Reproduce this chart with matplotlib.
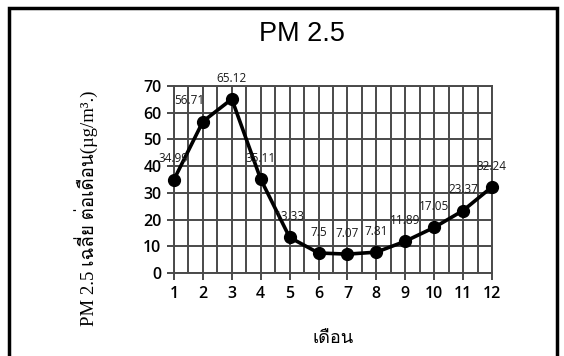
import matplotlib
matplotlib.use("Agg")
import matplotlib.pyplot as plt
from matplotlib import font_manager
from matplotlib.ft2font import FT2Font
from matplotlib.ticker import MultipleLocator
from matplotlib.patches import Rectangle

months = [1, 2, 3, 4, 5, 6, 7, 8, 9, 10, 11, 12]
pm25 = [34.99, 56.71, 65.12, 35.11, 13.33, 7.5, 7.07, 7.81, 11.89, 17.05, 23.37, 32.24]
value_labels = ["34.99", "56.71", "65.12", "35.11", "13.33", "7.5", "7.07", "7.81",
                "11.89", "17.05", "23.37", "32.24"]
title = "PM 2.5"
xlabel = "เดือน"
ylabel = "PM 2.5 เฉลี่ย ต่อเดือน(µg/m³.)"

# find an installed font with Thai glyphs
thai_font = None
for f in font_manager.fontManager.ttflist:
    try:
        cm = FT2Font(f.fname).get_charmap()
        if 0x0E40 in cm and 0x0E14 in cm:
            thai_font = f.name
            break
    except Exception:
        pass
fam_sans = ([thai_font] if thai_font else []) + ["Liberation Sans", "DejaVu Sans"]
fam_serif = ["Liberation Serif"] + ([thai_font] if thai_font else []) + ["DejaVu Sans"]

fig = plt.figure(figsize=(5.64, 3.56), dpi=100)
ax = fig.add_axes([0.3085, 0.2331, 0.5638, 0.5253])

ax.plot(months, pm25, color="black", lw=2.6, marker="o", ms=8.5, zorder=3, clip_on=False)

ax.set_xlim(1, 12)
ax.set_ylim(0, 70)
ax.set_xticks(months)
ax.xaxis.set_minor_locator(MultipleLocator(0.5))
ax.yaxis.set_major_locator(MultipleLocator(10))
ax.grid(True, which="major", color="#4a4a4a", lw=1.4)
ax.grid(True, which="minor", axis="x", color="#4a4a4a", lw=1.4)
ax.tick_params(which="minor", length=0)
ax.tick_params(which="major", length=5, width=1.4, color="#4a4a4a", pad=4,
               labelsize=11.5)
for lbl in ax.get_xticklabels() + ax.get_yticklabels():
    lbl.set_fontfamily(["Open Sans", "DejaVu Sans"])
    lbl.set_fontweight("semibold")
for s in ax.spines.values():
    s.set_color("#4a4a4a")
    s.set_linewidth(1.4)

for i, (m, v, t) in enumerate(zip(months, pm25, value_labels)):
    dx = -10 if i == 1 else 0
    ax.annotate(t, (m, v), xytext=(dx, 15), textcoords="offset points",
                ha="center", va="center", fontsize=8.5, color="#1a1a1a",
                family=["Open Sans", "DejaVu Sans"], zorder=4, annotation_clip=False)

fig.text(302 / 564, 1 - 34 / 356, title, ha="center", va="center", fontsize=19.5,
         family=["Liberation Sans", "DejaVu Sans"])
fig.text(333 / 564, 1 - 338 / 356, xlabel, ha="center", va="center", fontsize=13,
         family=fam_sans)
fig.text(86 / 564, 1 - 208 / 356, ylabel, ha="center", va="center", fontsize=13.5,
         rotation=90, family=fam_serif)

fig.patches.append(Rectangle((9 / 564, -0.1), (557 - 9) / 564, 1.1 - 8 / 356,
                             transform=fig.transFigure, fill=False, lw=2.5,
                             edgecolor="black"))

fig.savefig("out.png", dpi=100)
